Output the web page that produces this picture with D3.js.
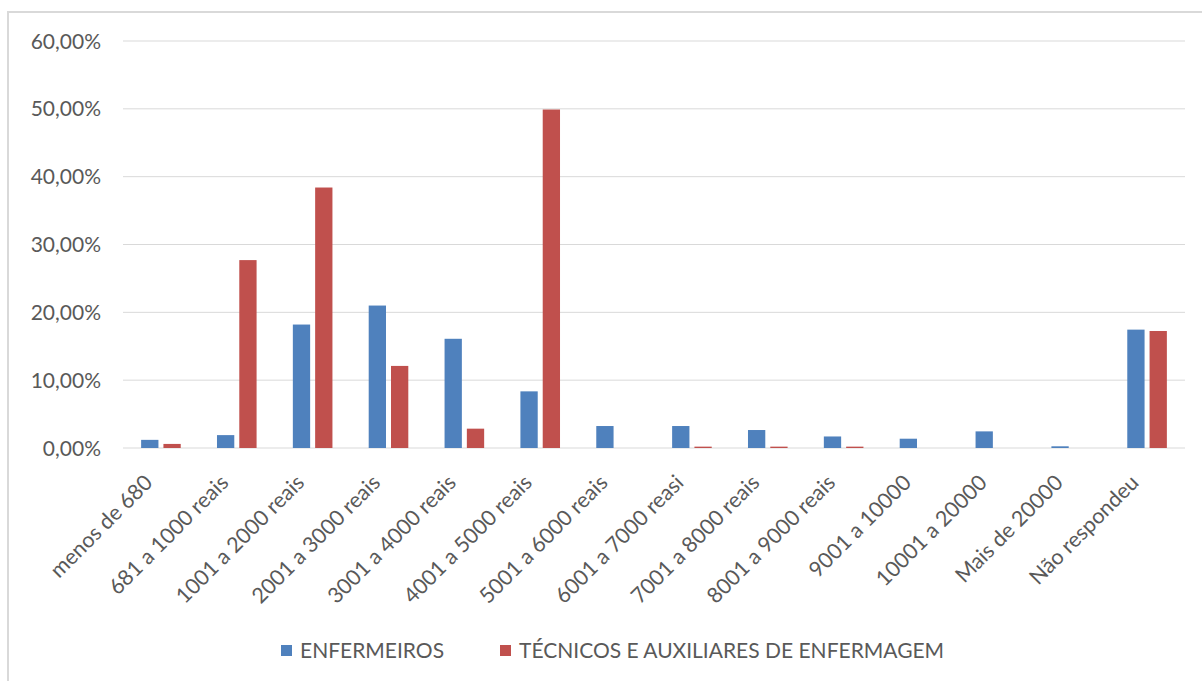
<!DOCTYPE html>
<html>
<head>
<meta charset="utf-8">
<script src="https://cdn.jsdelivr.net/npm/d3@7"></script>
<style>
  body { margin: 0; background: #fff; }
  svg text { font-family: Lato, "Open Sans", sans-serif; fill: #595959; }
</style>
</head>
<body>
<svg id="chart" width="1202" height="681"></svg>
<script>
var categories = [
  "menos de 680", "681 a 1000 reais", "1001 a 2000 reais", "2001 a 3000 reais",
  "3001 a 4000 reais", "4001 a 5000 reais", "5001 a 6000 reais", "6001 a 7000 reasi",
  "7001 a 8000 reais", "8001 a 9000 reais", "9001 a 10000", "10001 a 20000",
  "Mais de 20000", "Não respondeu"
];
var seriesNames = ["ENFERMEIROS", "TÉCNICOS E AUXILIARES DE ENFERMAGEM"];
var enfermeiros = [1.2, 1.9, 18.2, 21.0, 16.1, 8.35, 3.24, 3.24, 2.65, 1.7, 1.37, 2.45, 0.25, 17.45];
var tecnicos = [0.6, 27.7, 38.4, 12.1, 2.85, 49.9, 0, 0.2, 0.2, 0.2, 0, 0, 0, 17.25];
var yTicks = [0, 10, 20, 30, 40, 50, 60];
var colors = ["#4f81bd", "#c0504d"];

var svg = d3.select("#chart");

// chart frame (only top and left edges show in the picture)
svg.append("rect")
  .attr("x", 8).attr("y", 12)
  .attr("width", 1250).attr("height", 700)
  .attr("fill", "none")
  .attr("stroke", "#d9d9d9")
  .attr("stroke-width", 2);

var plotLeft = 123, plotRight = 1185, plotTop = 41, plotBottom = 448;

var x = d3.scaleBand()
  .domain(categories)
  .range([plotLeft, plotRight]);

var y = d3.scaleLinear()
  .domain([0, 60])
  .range([plotBottom, plotTop]);

// gridlines
svg.append("g")
  .selectAll("line")
  .data(yTicks)
  .enter().append("line")
  .attr("x1", plotLeft)
  .attr("x2", plotRight)
  .attr("y1", function (d) { return y(d); })
  .attr("y2", function (d) { return y(d); })
  .attr("stroke", "#d9d9d9")
  .attr("stroke-width", 1);

// y labels
var fmt = function (d) { return d.toFixed(2).replace(".", ",") + "%"; };
svg.append("g")
  .selectAll("text")
  .data(yTicks)
  .enter().append("text")
  .attr("x", 101)
  .attr("y", function (d) { return y(d); })
  .attr("dy", "0.36em")
  .attr("text-anchor", "end")
  .style("font-size", "21px")
  .text(fmt);

// bars
var barW = 17.3, gap = 5;
var series = [enfermeiros, tecnicos];
var rows = categories.map(function (c, i) {
  return series.map(function (s, k) { return { cat: c, k: k, v: s[i] }; });
});

var groups = svg.append("g")
  .selectAll("g")
  .data(rows)
  .enter().append("g");

groups.selectAll("rect")
  .data(function (d) { return d; })
  .enter().append("rect")
  .attr("x", function (d) {
    var cx = x(d.cat) + x.bandwidth() / 2;
    return d.k === 0 ? cx - gap / 2 - barW : cx + gap / 2;
  })
  .attr("width", barW)
  .attr("y", function (d) { return y(d.v); })
  .attr("height", function (d) { return plotBottom - y(d.v); })
  .attr("fill", function (d) { return colors[d.k]; });

// x labels, rotated
svg.append("g")
  .selectAll("text")
  .data(categories)
  .enter().append("text")
  .attr("transform", function (d) {
    var cx = x(d) + x.bandwidth() / 2;
    return "translate(" + (cx - 7) + "," + 484 + ") rotate(-45)";
  })
  .attr("text-anchor", "end")
  .style("font-size", "21.5px")
  .text(function (d) { return d; });

// legend
var legendX = [281, 500];
var legend = svg.append("g")
  .selectAll("g")
  .data(seriesNames)
  .enter().append("g")
  .attr("transform", function (d, i) { return "translate(" + legendX[i] + ",645)"; });

legend.append("rect")
  .attr("width", 11)
  .attr("height", 11)
  .attr("fill", function (d, i) { return colors[i]; });

legend.append("text")
  .attr("x", 19)
  .attr("y", 5.5)
  .attr("dy", "0.36em")
  .style("font-size", "21px")
  .text(function (d) { return d; });
</script>
</body>
</html>
